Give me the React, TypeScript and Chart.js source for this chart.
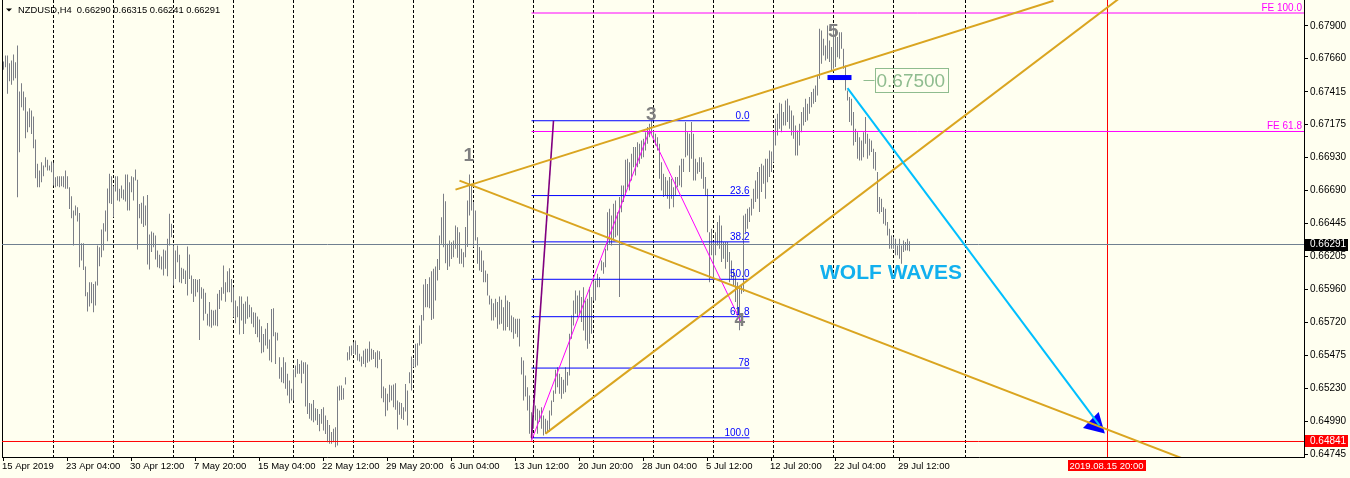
import React, { useEffect, useRef } from 'react';
import { Chart, registerables } from 'chart.js';

Chart.register(...registerables);

// ---------------- data ----------------
const chartTitle = 'NZDUSD,H4  0.66290 0.66315 0.66241 0.66291';

const timeLabels = [
  '15 Apr 2019', '23 Apr 04:00', '30 Apr 12:00', '7 May 20:00', '15 May 04:00',
  '22 May 12:00', '29 May 20:00', '6 Jun 04:00', '13 Jun 12:00', '20 Jun 20:00',
  '28 Jun 04:00', '5 Jul 12:00', '12 Jul 20:00', '22 Jul 04:00', '29 Jul 12:00',
];

const priceTicks = [
  0.679, 0.6766, 0.67415, 0.67175, 0.6693, 0.6669, 0.66445,
  0.66205, 0.6596, 0.6572, 0.65475, 0.6523, 0.6499, 0.64745,
];

const barHighs = [
  0.67638,0.67682,0.67682,0.67626,0.67645,0.67689,0.67633,0.67756,0.67417,0.67478,
  0.67417,0.67375,0.6727,0.67294,0.67277,0.67233,0.67064,0.66885,0.66836,0.66897,
  0.66872,0.66934,0.66914,0.66872,0.66902,0.66892,0.66786,0.66794,0.66794,0.66794,
  0.66794,0.66836,0.66794,0.66713,0.66647,0.66541,0.66578,0.66566,0.66522,0.66301,
  0.66301,0.66129,0.6594,0.66014,0.66014,0.66001,0.66019,0.66284,0.66271,0.66401,
  0.66448,0.66541,0.66703,0.66811,0.66794,0.6672,0.66794,0.66794,0.66701,0.66725,
  0.66696,0.66806,0.66806,0.6675,0.66794,0.66786,0.66843,0.66767,0.6659,0.66598,
  0.66647,0.66578,0.66656,0.66365,0.66387,0.66377,0.66357,0.66247,0.66215,0.66203,
  0.66254,0.66247,0.66333,0.66517,0.66443,0.66284,0.66247,0.66284,0.66215,0.66119,
  0.66112,0.661,0.66276,0.66217,0.66063,0.66038,0.66038,0.66031,0.66038,0.65977,
  0.65965,0.65935,0.65781,0.65867,0.6581,0.65805,0.6581,0.65928,0.65957,0.65977,
  0.66136,0.66014,0.66095,0.66117,0.66038,0.65977,0.65879,0.65837,0.6591,0.65908,
  0.65854,0.65871,0.65908,0.65847,0.65829,0.65793,0.65788,0.65761,0.65739,0.6569,
  0.65633,0.6567,0.65714,0.65592,0.65817,0.65822,0.65646,0.65641,0.65462,0.65388,
  0.65462,0.65425,0.65339,0.6529,0.65229,0.65371,0.654,0.65449,0.65412,0.65437,
  0.65425,0.65425,0.65408,0.65125,0.65118,0.65147,0.65086,0.65081,0.65044,0.65081,
  0.65094,0.65032,0.65,0.64963,0.6491,0.64934,0.64946,0.65246,0.65253,0.65253,
  0.65233,0.65314,0.65498,0.65542,0.65547,0.65572,0.65584,0.65552,0.65486,0.65466,
  0.65511,0.65523,0.65523,0.65577,0.65523,0.65515,0.65498,0.65511,0.65506,0.65449,
  0.65246,0.65233,0.65192,0.65258,0.65253,0.6526,0.6527,0.65143,0.6513,0.65125,
  0.65094,0.65265,0.65216,0.65351,0.65466,0.65449,0.6556,0.65565,0.65695,0.65773,
  0.65996,0.66038,0.66001,0.6605,0.66094,0.66112,0.66129,0.66185,0.66357,0.66492,
  0.66664,0.6661,0.66296,0.6632,0.66308,0.6632,0.66431,0.66418,0.66382,0.66259,
  0.66234,0.66419,0.66615,0.66806,0.66738,0.66603,0.66541,0.66345,0.66272,0.66247,
  0.66173,0.661,0.66075,0.65916,0.65891,0.65859,0.65891,0.65867,0.65909,0.65884,
  0.6583,0.65916,0.65879,0.65867,0.65769,0.65756,0.65744,0.65744,0.65744,0.65462,
  0.65437,0.65327,0.65241,0.6518,0.65057,0.6502,0.65106,0.65082,0.65069,0.65094,
  0.65033,0.65008,0.64996,0.65069,0.65143,0.65217,0.65369,0.65388,0.65339,0.65315,
  0.65295,0.65388,0.65352,0.65634,0.65769,0.65879,0.65953,0.65916,0.65953,0.65904,
  0.65977,0.65879,0.65891,0.65977,0.65904,0.66026,0.66026,0.66075,0.66051,0.66173,
  0.66161,0.66259,0.66529,0.66554,0.66505,0.66591,0.66615,0.66529,0.6664,0.66725,
  0.66725,0.66914,0.66922,0.66897,0.66959,0.67008,0.67008,0.67044,0.67032,0.67057,
  0.67069,0.67118,0.67155,0.67179,0.67202,0.6713,0.67106,0.67081,0.67032,0.66897,
  0.66811,0.66787,0.66762,0.66787,0.66775,0.66713,0.66787,0.66787,0.66873,0.66922,
  0.66922,0.67192,0.67118,0.67106,0.67192,0.67106,0.66922,0.66897,0.66934,0.66934,
  0.66897,0.66787,0.66701,0.66382,0.66407,0.66309,0.66382,0.66456,0.66505,0.66431,
  0.66309,0.66309,0.66309,0.66235,0.66174,0.66112,0.66063,0.66014,0.65965,0.6599,
  0.66505,0.66517,0.66554,0.66566,0.66628,0.66701,0.66763,0.66824,0.66861,0.66885,
  0.66873,0.66922,0.66922,0.66983,0.66976,0.67118,0.67217,0.67253,0.67334,0.67327,
  0.67266,0.67351,0.67364,0.67315,0.67278,0.67241,0.67167,0.67131,0.6718,0.67266,
  0.67302,0.67364,0.67327,0.67376,0.67413,0.67437,0.67462,0.67535,0.67879,0.67867,
  0.67805,0.67756,0.67903,0.67793,0.67744,0.67903,0.67867,0.67818,0.67854,0.67854,
  0.67732,0.67609,0.67425,0.67376,0.67364,0.67266,0.67143,0.67118,0.67081,0.67057,
  0.67118,0.67229,0.67106,0.67069,0.67057,0.66996,0.66971,0.66824,0.6664,0.66628,
  0.66566,0.66554,0.66456,0.66407,0.66358,0.66346,0.66333,0.66284,0.66333,0.66284,
  0.66321,0.66309,0.66333,0.66315,
];

const barLows = [
  0.67577,0.67596,0.674,0.67493,0.67466,0.67498,0.67515,0.66639,0.6697,0.67302,
  0.67277,0.67074,0.67118,0.67154,0.67105,0.67,0.66779,0.66713,0.66713,0.6675,
  0.66794,0.6686,0.66836,0.66836,0.66823,0.66725,0.66713,0.6672,0.66713,0.6672,
  0.66713,0.66701,0.66701,0.66553,0.66485,0.66284,0.66504,0.6646,0.66124,0.66173,
  0.66104,0.65911,0.65798,0.65835,0.65859,0.65793,0.65842,0.65989,0.66131,0.66198,
  0.66247,0.66387,0.66315,0.66595,0.6659,0.66492,0.66681,0.66615,0.66607,0.66632,
  0.6662,0.66607,0.66541,0.66541,0.66676,0.66615,0.66762,0.66254,0.66485,0.66443,
  0.66419,0.66431,0.66144,0.66107,0.66235,0.66271,0.66181,0.66124,0.66117,0.66107,
  0.66063,0.66112,0.66058,0.66284,0.66345,0.65989,0.66038,0.66161,0.66014,0.66006,
  0.66038,0.66001,0.65916,0.66038,0.65928,0.65867,0.65908,0.6594,0.65589,0.65891,
  0.65732,0.65781,0.65695,0.65687,0.65678,0.65695,0.65695,0.6569,0.65817,0.65879,
  0.65928,0.6587,0.6594,0.6594,0.65866,0.65756,0.65712,0.65756,0.65628,0.65731,
  0.65633,0.65707,0.65744,0.65756,0.65707,0.65682,0.65633,0.65609,0.65572,0.65491,
  0.65498,0.65547,0.65523,0.65437,0.65425,0.65616,0.65412,0.65584,0.65302,0.65278,
  0.6527,0.65229,0.65179,0.65123,0.65143,0.65143,0.65314,0.65339,0.65339,0.6527,
  0.65339,0.65098,0.65044,0.65008,0.64995,0.64983,0.64995,0.64963,0.64917,0.64971,
  0.64922,0.64897,0.64836,0.64824,0.64824,0.64836,0.64799,0.64811,0.65143,0.65147,
  0.6515,0.6526,0.65437,0.65442,0.65474,0.65486,0.65479,0.65437,0.6543,0.65393,
  0.65412,0.65388,0.6542,0.6543,0.65442,0.65449,0.65388,0.65381,0.65442,0.6516,
  0.6513,0.65027,0.65069,0.6513,0.65143,0.65094,0.65074,0.64929,0.65037,0.65008,
  0.65,0.65062,0.64959,0.6527,0.65216,0.65388,0.65388,0.654,0.65547,0.6556,
  0.65731,0.65829,0.65829,0.65822,0.65736,0.65744,0.65879,0.66026,0.66104,0.66296,
  0.66271,0.66153,0.66104,0.66129,0.66185,0.66198,0.66259,0.66193,0.66149,0.66149,
  0.66124,0.66198,0.66272,0.66505,0.66541,0.66272,0.66321,0.66149,0.661,0.66088,
  0.66014,0.66014,0.65916,0.6585,0.65732,0.65732,0.65756,0.65671,0.65702,0.65707,
  0.65658,0.65658,0.65683,0.65658,0.65646,0.65597,0.65634,0.65609,0.6554,0.65334,
  0.65143,0.65172,0.65069,0.64898,0.64853,0.64934,0.64996,0.64898,0.64984,0.64934,
  0.64885,0.64898,0.64903,0.6491,0.65033,0.65131,0.65192,0.65241,0.65192,0.65155,
  0.65192,0.65204,0.65253,0.65327,0.65597,0.65695,0.65781,0.65756,0.65781,0.6572,
  0.65658,0.65585,0.65523,0.6556,0.65634,0.65879,0.65879,0.65977,0.65977,0.661,
  0.66075,0.66124,0.66247,0.66296,0.66284,0.66321,0.66345,0.66357,0.65904,0.66529,
  0.66603,0.66652,0.66713,0.66689,0.66762,0.6686,0.66799,0.6686,0.66885,0.66922,
  0.66934,0.66983,0.67032,0.67081,0.67106,0.67069,0.6702,0.66983,0.66775,0.66689,
  0.6664,0.66652,0.66627,0.66554,0.66627,0.66566,0.66652,0.66713,0.66725,0.66713,
  0.66824,0.66934,0.66946,0.66824,0.66922,0.66762,0.66763,0.66812,0.66824,0.66775,
  0.66701,0.66652,0.66382,0.66014,0.66211,0.66039,0.66211,0.66284,0.6626,0.66162,
  0.66186,0.66112,0.66162,0.66014,0.66039,0.6599,0.65867,0.65769,0.65659,0.65929,
  0.65941,0.66382,0.66407,0.66456,0.66505,0.66554,0.66603,0.66628,0.6653,0.66677,
  0.66738,0.66628,0.6675,0.66787,0.66824,0.66897,0.6702,0.67094,0.67143,0.67118,
  0.67167,0.67167,0.67192,0.67143,0.67094,0.67069,0.66947,0.66947,0.6702,0.67118,
  0.67167,0.67192,0.67204,0.67253,0.67302,0.67327,0.67339,0.67388,0.67511,0.67621,
  0.67683,0.67646,0.67658,0.67634,0.67572,0.67585,0.67597,0.6767,0.67658,0.67732,
  0.67585,0.67425,0.67351,0.67192,0.67167,0.6702,0.67045,0.66922,0.6691,0.6691,
  0.66934,0.67032,0.66922,0.66947,0.66971,0.66848,0.66836,0.6653,0.66517,0.6653,
  0.66444,0.66431,0.66358,0.6626,0.6626,0.6626,0.66211,0.66211,0.66186,0.66149,
  0.66235,0.66247,0.66247,0.66241,
];

const bidPrice = 0.66291;
const alertPrice = 0.64841;
const weekSeparatorBars = [25, 55, 85, 115, 145, 175, 205, 235, 265, 295, 325, 355, 385, 415, 445, 481];

const fibBars = [264, 275];
const fibPrices = [0.64868, 0.67202];
const fibEndBar = 373;
const fibLevels = [0, 23.6, 38.2, 50, 61.8, 78, 100];
const fibLevelLabels = ['0.0', '23.6', '38.2', '50.0', '61.8', '78', '100.0'];

const expansionBars = [264, 323, 369];
const expansionPrices = [0.64847, 0.6713, 0.65712];
const expansionLevels = [61.8, 100];

const wolf13Bars = [226, 525];
const wolf13Prices = [0.66695, 0.68085];
const wolf14Bars = [228, 600];
const wolf14Prices = [0.66761, 0.64657];
const wolf24Bars = [271, 560];
const wolf24Prices = [0.64899, 0.68126];

const targetBars = [422, 548];
const targetPrices = [0.67442, 0.64959];
const arrowBar = 546;
const arrowPrice = 0.64966;

const entryBars = [412, 424];
const entryPrice = 0.6752;

const priceLabelBar = 430;
const priceLabelValue = 0.675;

const waveLabels = ['1', '3', '4', '5'];
const waveLabelBars = [232.6, 323.9, 368.1, 414.9];
const waveLabelPrices = [0.66946, 0.67248, 0.65732, 0.67857];

const bannerText = 'WOLF WAVES';
const bannerBar = 443.75;
const bannerPrice = 0.66078;

const projectionBar = 552;
const projectionLabel = '2019.08.15 20:00';

// ---------------- layout / style constants ----------------
const X_MIN = -0.75;
const X_MAX = 650.25;
const Y_MIN = 0.647269;
const Y_MAX = 0.680907;
const LABEL_STEP = 32;
const FONT = '"Liberation Sans", Arial, sans-serif';
const BG = '#FFFFF0';
const BAR_COLOR = '#7B7E86';

const fibPrice = (lvl: number) => fibPrices[1] - (lvl / 100) * (fibPrices[1] - fibPrices[0]);
const expPrice = (lvl: number) =>
  expansionPrices[2] + (lvl / 100) * (expansionPrices[1] - expansionPrices[0]);

const hLine = (price: number, from = X_MIN, to = X_MAX) => [
  { x: from, y: price },
  { x: to, y: price },
];
const seg = (bars: number[], prices: number[]) => bars.map((b, k) => ({ x: b, y: prices[k] }));

const lineDs = (data: any[], color: string, width: number, extra: any = {}) => ({
  type: 'line',
  data,
  borderColor: color,
  borderWidth: width,
  pointRadius: 0,
  fill: false,
  tension: 0,
  xAxisID: 'x',
  yAxisID: 'y',
  clip: 0,
  order: 1,
  ...extra,
});

const overlayPlugin = {
  id: 'overlay',
  beforeDraw(chart: any) {
    const { ctx, width, height } = chart;
    ctx.save();
    ctx.fillStyle = BG;
    ctx.fillRect(0, 0, width, height);
    ctx.restore();
  },
  afterDatasetsDraw(chart: any) {
    const { ctx, chartArea: ca } = chart;
    const x = chart.scales.x;
    const y = chart.scales.y;
    ctx.save();
    ctx.beginPath();
    ctx.rect(ca.left, ca.top, ca.right - ca.left, ca.bottom - ca.top);
    ctx.clip();

    // fibonacci level labels
    ctx.font = `10px ${FONT}`;
    ctx.fillStyle = '#0000FF';
    ctx.textAlign = 'right';
    ctx.textBaseline = 'alphabetic';
    const fx = x.getPixelForValue(fibEndBar);
    fibLevels.forEach((l, k) => {
      ctx.fillText(fibLevelLabels[k], fx, y.getPixelForValue(fibPrice(l)) - 2);
    });

    // expansion labels
    ctx.fillStyle = '#FF00FF';
    expansionLevels.forEach((l) => {
      ctx.fillText('FE ' + l.toFixed(1), ca.right - 2, y.getPixelForValue(expPrice(l)) - 2.5);
    });

    // wave labels
    ctx.font = `bold 19px ${FONT}`;
    ctx.fillStyle = '#808080';
    ctx.textAlign = 'center';
    ctx.textBaseline = 'middle';
    waveLabels.forEach((t, k) => {
      ctx.fillText(t, x.getPixelForValue(waveLabelBars[k]), y.getPixelForValue(waveLabelPrices[k]));
    });

    // banner
    ctx.font = `bold 21px ${FONT}`;
    ctx.fillStyle = '#12B0EE';
    ctx.fillText(bannerText, x.getPixelForValue(bannerBar), y.getPixelForValue(bannerPrice));

    // price label with leader
    const px = x.getPixelForValue(priceLabelBar);
    const py = Math.round(y.getPixelForValue(priceLabelValue)) + 0.5;
    ctx.strokeStyle = '#8FBC8F';
    ctx.lineWidth = 1;
    ctx.beginPath();
    ctx.moveTo(px, py);
    ctx.lineTo(px + 11, py);
    ctx.stroke();
    ctx.strokeRect(Math.round(px + 11) + 0.5, py - 12, 73, 24);
    ctx.font = `19px ${FONT}`;
    ctx.fillStyle = '#8FBC8F';
    ctx.textAlign = 'left';
    ctx.textBaseline = 'middle';
    ctx.fillText(priceLabelValue.toFixed(5), px + 13, py + 1);
    ctx.restore();
  },
  afterDraw(chart: any) {
    const { ctx, chartArea: ca } = chart;
    const x = chart.scales.x;
    const y = chart.scales.y;
    ctx.save();
    ctx.font = `10px ${FONT}`;
    ctx.textBaseline = 'middle';

    // price boxes on the axis
    const box = (price: number, color: string) => {
      const yy = y.getPixelForValue(price);
      ctx.fillStyle = color;
      ctx.fillRect(ca.right + 1, Math.round(yy) - 6, 43, 12);
      ctx.fillStyle = '#FFFFFF';
      ctx.textAlign = 'left';
      ctx.fillText(price.toFixed(5), ca.right + 6, yy);
    };
    box(bidPrice, '#000000');
    box(alertPrice, '#FF0000');

    // projection date box
    ctx.font = `9.5px ${FONT}`;
    const dx = x.getPixelForValue(projectionBar);
    ctx.fillStyle = '#FF0000';
    ctx.fillRect(Math.round(dx - 40), ca.bottom + 3, 78, 11);
    ctx.fillStyle = '#FFFFFF';
    ctx.textAlign = 'center';
    ctx.fillText(projectionLabel, dx - 1, ca.bottom + 9);

    // title
    ctx.font = `9.4px ${FONT}`;
    ctx.fillStyle = '#000000';
    ctx.beginPath();
    ctx.moveTo(6, 8.5);
    ctx.lineTo(12, 8.5);
    ctx.lineTo(9, 11.5);
    ctx.closePath();
    ctx.fill();
    ctx.textAlign = 'left';
    ctx.fillText(chartTitle, 18, 10.5);
    ctx.restore();
  },
};

export default function App() {
  const ref = useRef<HTMLCanvasElement>(null);

  useEffect(() => {
    document.body.style.margin = '0';
    Chart.defaults.font.family = FONT;
    const datasets: any[] = [
      {
        type: 'bar',
        data: barHighs.map((h, i) => ({ x: i, y: [barLows[i], h] })),
        backgroundColor: BAR_COLOR,
        barThickness: 1,
        borderWidth: 0,
        inflateAmount: 0,
        xAxisID: 'x',
        yAxisID: 'y',
        order: 10,
      },
      lineDs(hLine(bidPrice), '#708090', 1, { order: 9 }),
      lineDs(hLine(alertPrice), '#FF0000', 1, { order: 9 }),
      lineDs(
        [
          { x: projectionBar, y: Y_MIN },
          { x: projectionBar, y: Y_MAX },
        ],
        '#FF0000',
        1,
        { order: 9 }
      ),
      ...fibLevels.map((l) => lineDs(hLine(fibPrice(l), fibBars[0], fibEndBar), '#0000FF', 1, { order: 8 })),
      ...expansionLevels.map((l) =>
        lineDs(hLine(expPrice(l), expansionBars[0], X_MAX), '#FF00FF', 1, { order: 8 })
      ),
      lineDs(seg(expansionBars, expansionPrices), '#FF00FF', 1, { order: 7 }),
      lineDs(seg(fibBars, fibPrices), '#800080', 1.6, { order: 7 }),
      {
        type: 'line',
        data: [{ x: arrowBar, y: arrowPrice }],
        showLine: false,
        pointStyle: 'triangle',
        pointRadius: 13,
        pointRotation: 14,
        pointBackgroundColor: '#0000FF',
        pointBorderColor: '#0000FF',
        pointBorderWidth: 0,
        xAxisID: 'x',
        yAxisID: 'y',
        order: 6,
      },
      lineDs(seg(wolf13Bars, wolf13Prices), '#DAA520', 2, { order: 5 }),
      lineDs(seg(wolf14Bars, wolf14Prices), '#DAA520', 2, { order: 5 }),
      lineDs(seg(wolf24Bars, wolf24Prices), '#DAA520', 2, { order: 5 }),
      lineDs(seg(targetBars, targetPrices), '#00BFFF', 2, { order: 4 }),
      lineDs(seg(entryBars, [entryPrice, entryPrice]), '#0000FF', 5, { order: 3, borderCapStyle: 'butt' }),
    ];

    const chart = new Chart(ref.current as HTMLCanvasElement, {
      type: 'bar',
      data: { datasets },
      options: {
        animation: false,
        responsive: false,
        devicePixelRatio: 1,
        events: [],
        layout: { autoPadding: false, padding: { left: 2, right: 0, top: 0, bottom: 0 } },
        plugins: {
          legend: { display: false },
          tooltip: { enabled: false },
          title: { display: false },
        },
        scales: {
          x: {
            type: 'linear',
            position: 'bottom',
            min: X_MIN,
            max: X_MAX,
            offset: false,
            afterBuildTicks: (s: any) => {
              s.ticks = timeLabels.map((_, k) => ({ value: k * LABEL_STEP }));
            },
            afterFit: (s: any) => {
              s.height = 21;
              s.paddingLeft = 0;
              s.paddingRight = 0;
            },
            ticks: {
              autoSkip: false,
              maxRotation: 0,
              minRotation: 0,
              align: 'start',
              padding: 0,
              labelOffset: -1.5,
              color: '#000000',
              font: { family: FONT, size: 9.5 },
              callback: (_v: any, i: number) => timeLabels[i] ?? '',
            },
            grid: { offset: false, drawOnChartArea: false, drawTicks: true, tickLength: 4, color: '#000000' },
            border: { display: true, color: '#000000' },
          },
          x2: {
            type: 'linear',
            position: 'top',
            min: X_MIN,
            max: X_MAX,
            offset: false,
            afterBuildTicks: (s: any) => {
              s.ticks = weekSeparatorBars.map((v) => ({ value: v }));
            },
            afterFit: (s: any) => {
              s.height = 0;
              s.paddingLeft = 0;
              s.paddingRight = 0;
            },
            ticks: { display: false },
            grid: { offset: false, drawOnChartArea: true, drawTicks: false, color: '#000000', lineWidth: 1 },
            border: { display: false, dash: [3, 2] },
          },
          y: {
            type: 'linear',
            position: 'right',
            min: Y_MIN,
            max: Y_MAX,
            afterBuildTicks: (s: any) => {
              s.ticks = priceTicks.map((v) => ({ value: v }));
            },
            afterFit: (s: any) => {
              s.width = 46;
              s.paddingTop = 0;
              s.paddingBottom = 0;
            },
            ticks: {
              autoSkip: false,
              padding: 2,
              color: '#000000',
              font: { family: FONT, size: 10 },
              callback: (v: any) => Number(v).toFixed(5),
            },
            grid: { drawOnChartArea: false, drawTicks: true, tickLength: 4, color: '#000000' },
            border: { display: true, color: '#000000' },
          },
          yl: {
            type: 'linear',
            position: 'left',
            min: Y_MIN,
            max: Y_MAX,
            afterFit: (s: any) => {
              s.width = 0;
              s.paddingTop = 0;
              s.paddingBottom = 0;
            },
            ticks: { display: false },
            grid: { drawOnChartArea: false, drawTicks: false },
            border: { display: true, color: '#000000' },
          },
        },
      } as any,
      plugins: [overlayPlugin],
    } as any);

    return () => chart.destroy();
  }, []);

  return (
    <div style={{ width: 1350, height: 478 }}>
      <canvas ref={ref} width={1350} height={478} style={{ display: 'block' }} />
    </div>
  );
}
